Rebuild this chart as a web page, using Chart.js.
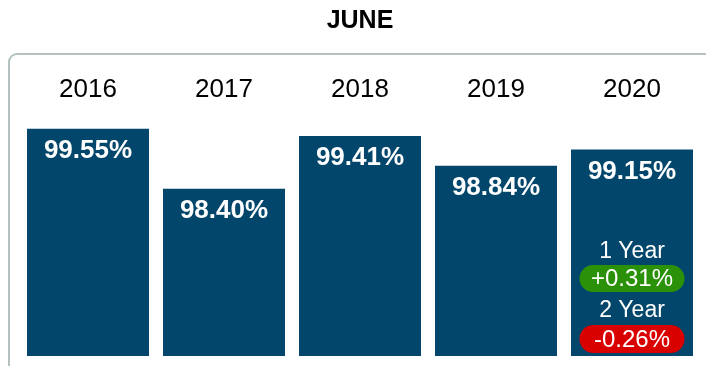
<!DOCTYPE html>
<html>
<head>
<meta charset="utf-8">
<script src="https://cdn.jsdelivr.net/npm/chart.js@4/dist/chart.umd.min.js"></script>
<style>
  html, body { margin: 0; padding: 0; background: #fff; }
  #wrap { width: 706px; height: 366px; }
</style>
</head>
<body>
<div id="wrap"><canvas id="myChart" width="706" height="366"></canvas></div>
<script>
const ctx = document.getElementById('myChart');

const FONT = "'Liberation Sans', Arial, Helvetica, sans-serif";

const anos = ['2016', '2017', '2018', '2019', '2020'];
const valores = [99.55, 98.40, 99.41, 98.84, 99.15];
const titulo = 'JUNE';

const corBarra = '#03466b';
const corBorda = '#b4c3c1';
const corSobe = '#2a9108';
const corDesce = '#d90000';

function pct(v) {
    return v.toFixed(2) + '%';
}

function variacao(v) {
    const s = v.toFixed(2);
    return (v >= 0 ? '+' : '') + s + '%';
}

// pill shaped badge with text in the middle
function badge(c, cx, cy, w, h, cor, texto) {
    const r = h / 2;
    c.beginPath();
    c.moveTo(cx - w / 2 + r, cy - r);
    c.lineTo(cx + w / 2 - r, cy - r);
    c.arc(cx + w / 2 - r, cy, r, -Math.PI / 2, Math.PI / 2);
    c.lineTo(cx - w / 2 + r, cy + r);
    c.arc(cx - w / 2 + r, cy, r, Math.PI / 2, Math.PI * 1.5);
    c.closePath();
    c.fillStyle = cor;
    c.fill();
    c.fillStyle = '#fff';
    c.fillText(texto, cx, cy + 1);
}

const moldura = {
    id: 'moldura',
    beforeDraw(chart) {
        const c = chart.ctx;
        const r = 8;
        c.save();
        c.strokeStyle = corBorda;
        c.lineWidth = 2;
        c.beginPath();
        c.moveTo(9, chart.height + 2);
        c.lineTo(9, 54 + r);
        c.arcTo(9, 54, 9 + r, 54, r);
        c.lineTo(chart.width + 2, 54);
        c.stroke();
        c.restore();
    }
};

const rotulos = {
    id: 'rotulos',
    afterDatasetsDraw(chart) {
        const c = chart.ctx;
        const meta = chart.getDatasetMeta(0);
        c.save();
        c.textAlign = 'center';
        c.textBaseline = 'middle';
        c.fillStyle = '#fff';
        c.font = 'bold 26px ' + FONT;
        meta.data.forEach((bar, i) => {
            c.fillText(pct(valores[i]), bar.x, bar.y + 22);
        });

        // year over year change on the last bar
        const n = valores.length - 1;
        const ult = meta.data[n];
        const fundo = chart.chartArea.bottom;
        const um = valores[n] - valores[n - 1];
        const dois = valores[n] - valores[n - 2];
        c.font = '23px ' + FONT;
        c.fillStyle = '#fff';
        c.fillText('1 Year', ult.x, fundo - 104);
        c.fillText('2 Year', ult.x, fundo - 45);
        c.font = '24px ' + FONT;
        badge(c, ult.x, fundo - 77.5, 105, 27, um >= 0 ? corSobe : corDesce, variacao(um));
        badge(c, ult.x, fundo - 17, 105, 28, dois >= 0 ? corSobe : corDesce, variacao(dois));
        c.restore();
    }
};

const grafico = new Chart(ctx, {
    type: 'bar',
    data: {
        labels: anos,
        datasets: [{
            data: valores,
            backgroundColor: corBarra,
            borderWidth: 0,
            barPercentage: 1,
            categoryPercentage: 122 / 136
        }]
    },
    options: {
        responsive: false,
        animation: false,
        devicePixelRatio: 1,
        layout: {
            padding: { left: 20, right: 6, top: 0, bottom: 10 }
        },
        plugins: {
            legend: { display: false },
            tooltip: { enabled: false },
            title: {
                display: true,
                text: titulo,
                color: '#000',
                font: { family: FONT, size: 25, weight: 'bold' },
                padding: { top: 6, bottom: 38 }
            }
        },
        scales: {
            x: {
                position: 'top',
                grid: { display: false, drawTicks: false, tickLength: 0 },
                border: { display: false },
                ticks: {
                    color: '#000',
                    padding: 0,
                    font: { family: FONT, size: 26 }
                }
            },
            y: {
                display: false,
                min: 95.2,
                max: 100
            }
        }
    },
    plugins: [moldura, rotulos]
});
</script>
</body>
</html>
